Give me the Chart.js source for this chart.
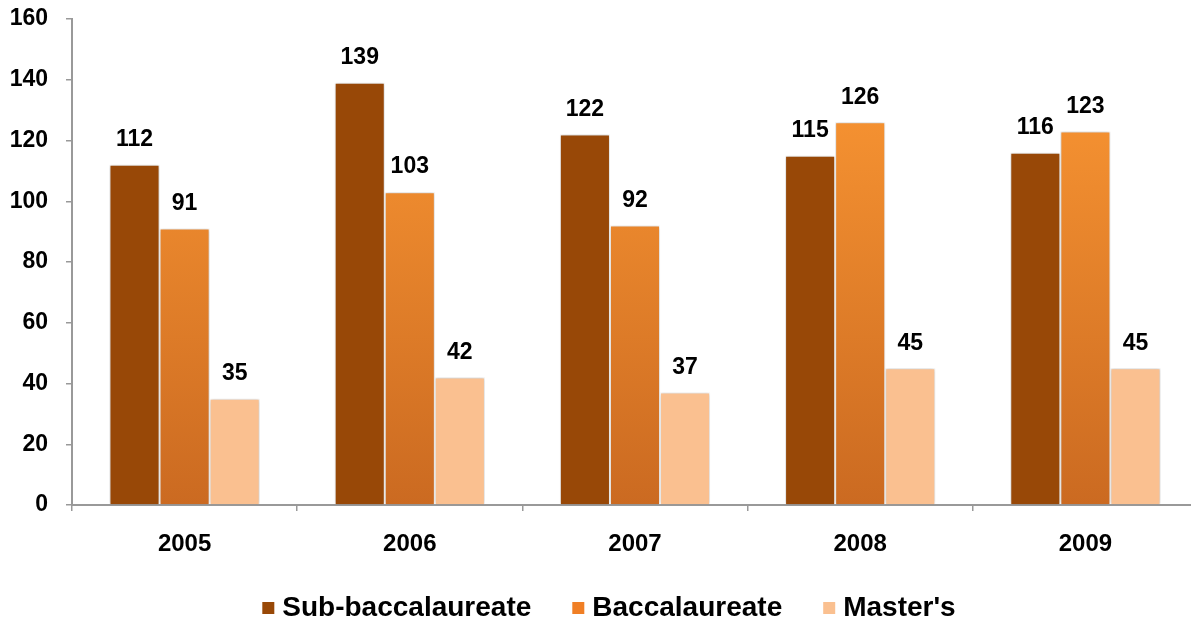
<!DOCTYPE html>
<html>
<head>
<meta charset="utf-8">
<script src="https://cdn.jsdelivr.net/npm/chart.js@4/dist/chart.umd.min.js"></script>
<style>
  html, body { margin: 0; padding: 0; background: #fff; overflow: hidden; }
  #caixa { width: 1200px; height: 624px; }
</style>
</head>
<body>
<div id="caixa"><canvas id="grafico"></canvas></div>
<script>
const ANOS = ['2005', '2006', '2007', '2008', '2009'];
const SUB_BACC = [112, 139, 122, 115, 116];
const BACC = [91, 103, 92, 126, 123];
const MASTERS = [35, 42, 37, 45, 45];
const ROTULOS = ['Sub-baccalaureate', 'Baccalaureate', "Master's"];

const FONTE = '"Liberation Sans", Arial, sans-serif';
const COR_EIXO = '#999999';

function gradienteBacc(ctx) {
  const area = ctx.chart.chartArea;
  if (!area) return '#f7922e';
  const g = ctx.chart.ctx.createLinearGradient(0, area.top, 0, area.bottom);
  g.addColorStop(0, '#ff9b35');
  g.addColorStop(1, '#cb6a21');
  return g;
}

const sombraBarras = {
  id: 'sombraBarras',
  beforeDatasetsDraw(chart) {
    const c = chart.ctx;
    c.save();
    c.shadowColor = 'rgba(0,0,0,0.25)';
    c.shadowBlur = 4;
  },
  afterDatasetsDraw(chart) {
    chart.ctx.restore();
  },
};

const rotulosValor = {
  id: 'rotulosValor',
  afterDatasetsDraw(chart) {
    const c = chart.ctx;
    c.save();
    c.font = 'bold 23px ' + FONTE;
    c.fillStyle = '#000';
    c.textAlign = 'center';
    c.textBaseline = 'middle';
    chart.data.datasets.forEach((ds, i) => {
      chart.getDatasetMeta(i).data.forEach((barra, j) => {
        c.fillText(String(ds.data[j]), barra.x, barra.y - 25);
      });
    });
    c.restore();
  },
};

// legenda desenhada à mão para acertar espaçamentos
const legenda = {
  id: 'legenda',
  afterDraw(chart) {
    const c = chart.ctx;
    c.save();
    c.font = 'bold 28px ' + FONTE;
    c.textBaseline = 'middle';
    c.textAlign = 'left';
    const caixa = 12, vao = 8, entre = 41;
    const itens = chart.data.datasets.map((ds, i) => ({
      texto: ds.label,
      cor: i === 1 ? '#f07f25' : ds.backgroundColor,
      largura: c.measureText(ds.label).width,
    }));
    const total = itens.reduce((s, it) => s + caixa + vao + it.largura, 0) + entre * (itens.length - 1);
    let x = chart.width / 2 + 9 - total / 2;
    const y = 608;
    itens.forEach((it) => {
      c.fillStyle = it.cor;
      c.fillRect(x, y - 6, caixa, caixa);
      x += caixa + vao;
      c.fillStyle = '#000';
      c.fillText(it.texto, x, y);
      x += it.largura + entre;
    });
    c.restore();
  },
};

new Chart(document.getElementById('grafico'), {
  type: 'bar',
  data: {
    labels: ANOS,
    datasets: [
      { label: ROTULOS[0], data: SUB_BACC, backgroundColor: '#984807' },
      { label: ROTULOS[1], data: BACC, backgroundColor: gradienteBacc },
      { label: ROTULOS[2], data: MASTERS, backgroundColor: '#fac090' },
    ],
  },
  options: {
    responsive: true,
    maintainAspectRatio: false,
    animation: false,
    datasets: {
      bar: {
        categoryPercentage: 0.667,
        barPercentage: 1,
        borderColor: '#ffffff',
        borderWidth: 1,
        borderSkipped: 'bottom',
      },
    },
    layout: { padding: { top: 19, right: 2, bottom: 69, left: 0 } },
    plugins: {
      tooltip: { enabled: false },
      legend: { display: false },
    },
    scales: {
      x: {
        afterFit(escala) { escala.height = 50; },
        grid: { drawOnChartArea: false, drawTicks: true, tickLength: 6, color: COR_EIXO, lineWidth: 1.5 },
        border: { color: COR_EIXO, width: 2 },
        ticks: { color: '#000', font: { family: FONTE, size: 24, weight: 'bold' }, padding: 19 },
      },
      y: {
        min: 0,
        max: 160,
        afterFit(escala) {
          escala.width = 72;
          escala.paddingTop = 0;
          escala.paddingBottom = 0;
        },
        grid: { drawOnChartArea: false, drawTicks: true, tickLength: 6, color: COR_EIXO, lineWidth: 1.5 },
        border: { color: COR_EIXO, width: 2 },
        ticks: { stepSize: 20, color: '#000', font: { family: FONTE, size: 23, weight: 'bold' }, padding: 18 },
      },
    },
  },
  plugins: [sombraBarras, rotulosValor, legenda],
});
</script>
</body>
</html>
